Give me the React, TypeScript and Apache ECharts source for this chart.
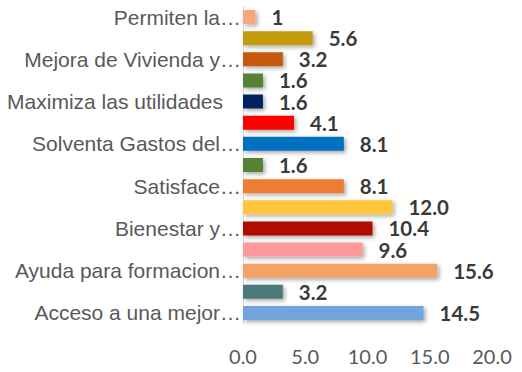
import React, { useEffect, useRef } from "react";
import * as echarts from "echarts";

const categories = [
  "Permiten la…",
  "Categoría 2",
  "Mejora de Vivienda y…",
  "Categoría 4",
  "Maximiza las utilidades",
  "Categoría 6",
  "Solventa Gastos del…",
  "Categoría 8",
  "Satisface…",
  "Categoría 10",
  "Bienestar y…",
  "Categoría 12",
  "Ayuda para formacion…",
  "Categoría 14",
  "Acceso a una mejor…",
];

const values = [1, 5.6, 3.2, 1.6, 1.6, 4.1, 8.1, 1.6, 8.1, 12.0, 10.4, 9.6, 15.6, 3.2, 14.5];
const valueLabels = ["1", "5.6", "3.2", "1.6", "1.6", "4.1", "8.1", "1.6", "8.1", "12.0", "10.4", "9.6", "15.6", "3.2", "14.5"];

const barColors = [
  "#F7A77C",
  "#C39A0C",
  "#C55A11",
  "#548235",
  "#002060",
  "#FF0000",
  "#0070C0",
  "#548235",
  "#ED7D31",
  "#FFC53A",
  "#B00C00",
  "#FF9A9A",
  "#F4A265",
  "#467A78",
  "#6FA6DB",
];

const xTicks = { min: 0, max: 20, interval: 5 };

export default function App() {
  const ref = useRef<HTMLDivElement>(null);
  useEffect(() => {
    document.body.style.margin = "0";
    const chart = echarts.init(ref.current!, undefined, { renderer: "svg" });
    chart.setOption({
      animation: false,
      backgroundColor: "#FFFFFF",
      grid: { left: 243, right: 30, top: 6.5, bottom: 48.5, containLabel: false },
      xAxis: {
        type: "value",
        min: xTicks.min,
        max: xTicks.max,
        interval: xTicks.interval,
        splitLine: { show: false },
        axisLine: { show: false },
        axisTick: { show: false },
        axisLabel: {
          margin: 22,
          color: "#595959",
          fontFamily: "Lato",
          fontSize: 20,
          formatter: (v: number) => v.toFixed(1),
        },
      },
      yAxis: {
        type: "category",
        inverse: true,
        data: categories.map((c) =>
          c === "Maximiza las utilidades"
            ? { value: c, textStyle: { padding: [0, 18, 0, 0] } }
            : c
        ),
        axisLine: { show: true, lineStyle: { color: "#D9D9D9", width: 1 } },
        axisTick: { show: false },
        axisLabel: {
          interval: 1,
          margin: 2,
          color: "#595959",
          fontFamily: "Liberation Sans",
          fontSize: 21,
        },
      },
      series: [
        {
          type: "bar",
          barWidth: 14,
          data: values.map((v, i) => ({
            value: v,
            itemStyle: {
              color: barColors[i],
              shadowColor: "rgba(0,0,0,0.35)",
              shadowBlur: 4,
              shadowOffsetX: 2,
              shadowOffsetY: 2,
            },
          })),
          label: {
            show: true,
            position: "right",
            distance: 16,
            color: "#3A3A3A",
            fontFamily: "Lato",
            fontWeight: "bold",
            fontSize: 20.5,
            lineHeight: 20,
            formatter: (p: any) => valueLabels[p.dataIndex],
          },
        },
      ],
    });
    return () => chart.dispose();
  }, []);
  return <div ref={ref} style={{ width: 522, height: 372 }} />;
}
